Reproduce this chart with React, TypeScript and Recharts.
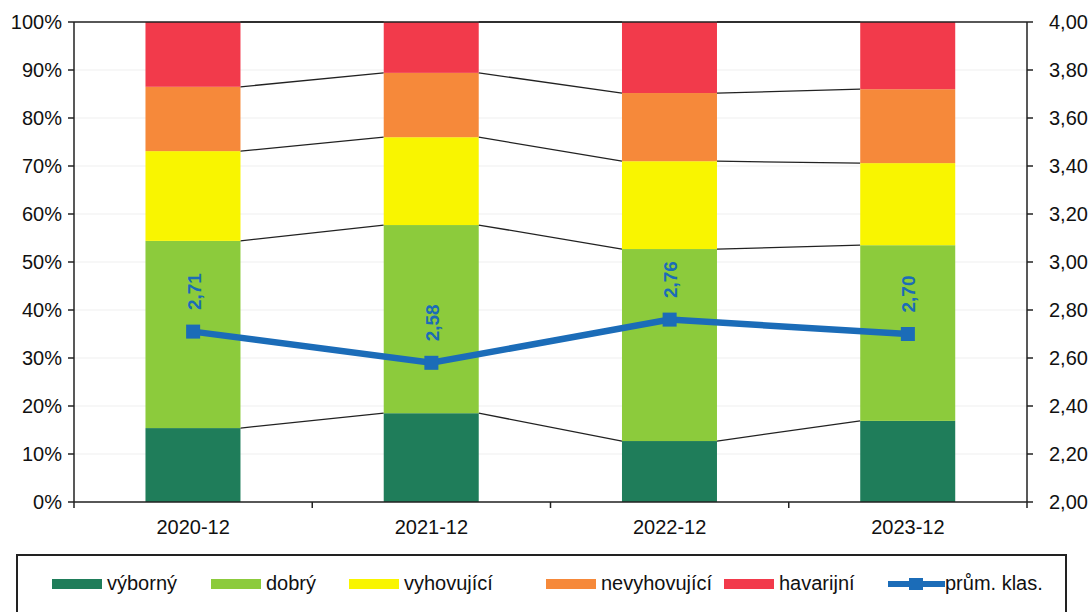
import {
  Bar,
  CartesianGrid,
  ComposedChart,
  LabelList,
  Line,
  ReferenceLine,
  XAxis,
  YAxis,
} from "recharts";

const categories = ["2020-12", "2021-12", "2022-12", "2023-12"];
const vyborny = [15.4, 18.5, 12.7, 16.9];
const dobry = [39.0, 39.2, 40.0, 36.6];
const vyhovujici = [18.7, 18.3, 18.3, 17.1];
const nevyhovujici = [13.4, 13.4, 14.2, 15.4];
const havarijni = [13.5, 10.6, 14.8, 14.0];
const prumKlas = [2.71, 2.58, 2.76, 2.7];

const leftTicks = [0, 10, 20, 30, 40, 50, 60, 70, 80, 90, 100];
const rightTicks = [2, 2.2, 2.4, 2.6, 2.8, 3, 3.2, 3.4, 3.6, 3.8, 4];

const W = 1091;
const H = 612;
const LEFT_W = 74;
const RIGHT_W = 64;
const PLOT_W = W - LEFT_W - RIGHT_W;
const STEP = PLOT_W / categories.length;
const FONT = "'Liberation Sans', Arial, sans-serif";
const BLUE = "#1b6cb8";

const KEYS = ["vyborny", "dobry", "vyhovujici", "nevyhovujici", "havarijni"];
const SERIES = [
  { key: "vyborny", name: "výborný", color: "#1f7d5a" },
  { key: "dobry", name: "dobrý", color: "#8ccb3c" },
  { key: "vyhovujici", name: "vyhovující", color: "#f9f500" },
  { key: "nevyhovujici", name: "nevyhovující", color: "#f6893a" },
  { key: "havarijni", name: "havarijní", color: "#f23a4b" },
];

const rows = categories.map((c, i) => ({
  cat: c,
  vyborny: vyborny[i],
  dobry: dobry[i],
  vyhovujici: vyhovujici[i],
  nevyhovujici: nevyhovujici[i],
  havarijni: havarijni[i],
  prum: prumKlas[i],
}));

const fmt = (v: number) => v.toFixed(2).replace(".", ",");

// bar segment + the thin "series line" over to the next bar
const makeShape = (key: string) => (props: any) => {
  const { x, y, width, height, index, fill } = props;
  const k = KEYS.indexOf(key);
  const cum = (idx: number) =>
    KEYS.slice(0, k + 1).reduce((s, kk) => s + (rows[idx] as any)[kk], 0);
  const val = (rows[index] as any)[key];
  const ppu = height / val;
  let conn = null;
  if (index < rows.length - 1) {
    const ny = y + (cum(index) - cum(index + 1)) * ppu;
    conn = (
      <line x1={x + width} y1={y} x2={x + STEP} y2={ny} stroke="#222" strokeWidth={1.3} />
    );
  }
  return (
    <g>
      <rect x={x} y={y} width={width} height={height} fill={fill} />
      {conn}
    </g>
  );
};

const XTick = (props: any) => {
  const { x, y, payload, index } = props;
  return (
    <g>
      <text
        x={x}
        y={y + 25}
        textAnchor="middle"
        dominantBaseline="central"
        fontSize={20}
        fontFamily={FONT}
        fill="#111"
      >
        {payload.value}
      </text>
      <line x1={x + STEP / 2} y1={y} x2={x + STEP / 2} y2={y + 6} stroke="#222" strokeWidth={1.5} />
      {index === 0 && (
        <line x1={x - STEP / 2} y1={y} x2={x - STEP / 2} y2={y + 6} stroke="#222" strokeWidth={1.5} />
      )}
    </g>
  );
};

const SquareDot = (props: any) => {
  const { cx, cy } = props;
  return <rect x={cx - 7} y={cy - 7} width={14} height={14} fill={BLUE} />;
};

const LineLabel = (props: any) => {
  const { x, y, value } = props;
  const lx = x + 1;
  const ly = y - 40;
  return (
    <text
      x={lx}
      y={ly}
      transform={`rotate(-90 ${lx} ${ly})`}
      textAnchor="middle"
      dominantBaseline="central"
      fill={BLUE}
      fontWeight="bold"
      fontSize={19}
      fontFamily={FONT}
    >
      {fmt(value)}
    </text>
  );
};

const legendItems = [
  { name: "výborný", color: "#1f7d5a", left: 50 },
  { name: "dobrý", color: "#8ccb3c", left: 209 },
  { name: "vyhovující", color: "#f9f500", left: 347 },
  { name: "nevyhovující", color: "#f6893a", left: 544 },
  { name: "havarijní", color: "#f23a4b", left: 722 },
];

export default function App() {
  const tickStyle = { fill: "#111", fontSize: 20, fontFamily: FONT };
  return (
    <div style={{ position: "absolute", left: 0, top: 0, width: W, height: H, background: "#fff", overflow: "hidden" }}>
      <ComposedChart
        width={W}
        height={H}
        data={rows}
        margin={{ top: 22, right: 0, bottom: 70, left: 0 }}
        barCategoryGap="30%"
      >
        <CartesianGrid vertical={false} stroke="#efefef" yAxisId="left" />
        <XAxis
          dataKey="cat"
          height={40}
          tickLine={false}
          tickSize={0}
          tickMargin={0}
          axisLine={{ stroke: "#222", strokeWidth: 1.5 }}
          tick={<XTick />}
          interval={0}
        />
        <YAxis
          yAxisId="left"
          width={LEFT_W}
          domain={[0, 100]}
          ticks={leftTicks}
          tickFormatter={(v) => `${v}%`}
          tick={tickStyle}
          tickSize={6}
          tickMargin={6}
          axisLine={{ stroke: "#222", strokeWidth: 1.5 }}
          tickLine={{ stroke: "#222", strokeWidth: 1.5 }}
          interval={0}
        />
        <YAxis
          yAxisId="right"
          orientation="right"
          width={RIGHT_W}
          domain={[2, 4]}
          ticks={rightTicks}
          tickFormatter={(v) => fmt(v)}
          tick={{ ...tickStyle, textAnchor: "start" }}
          tickSize={6}
          tickMargin={16}
          axisLine={{ stroke: "#222", strokeWidth: 1.5 }}
          tickLine={{ stroke: "#222", strokeWidth: 1.5 }}
          interval={0}
        />
        <ReferenceLine yAxisId="left" y={100} stroke="#222" strokeWidth={1.5} />
        {SERIES.map((s) => (
          <Bar
            key={s.key}
            dataKey={s.key}
            name={s.name}
            stackId="a"
            yAxisId="left"
            fill={s.color}
            shape={makeShape(s.key)}
            isAnimationActive={false}
          />
        ))}
        <Line
          dataKey="prum"
          yAxisId="right"
          stroke={BLUE}
          strokeWidth={6.5}
          dot={<SquareDot />}
          activeDot={false}
          isAnimationActive={false}
        >
          <LabelList dataKey="prum" content={<LineLabel />} />
        </Line>
      </ComposedChart>
      <div
        style={{
          position: "absolute",
          left: 16,
          top: 554,
          width: 1051,
          height: 80,
          border: "2px solid #222",
          boxSizing: "border-box",
          fontFamily: FONT,
          fontSize: 20,
          color: "#111",
        }}
      >
        {legendItems.map((it) => (
          <div
            key={it.name}
            style={{ position: "absolute", left: it.left - 16, top: 16, display: "flex", alignItems: "center" }}
          >
            <span style={{ display: "inline-block", width: 50, height: 10, background: it.color, marginRight: 5 }} />
            <span>{it.name}</span>
          </div>
        ))}
        <div style={{ position: "absolute", left: 886 - 16, top: 16, display: "flex", alignItems: "center" }}>
          <svg width={57} height={16} style={{ display: "block" }}>
            <line x1={0} y1={8} x2={57} y2={8} stroke={BLUE} strokeWidth={6} strokeLinecap="round" />
            <rect x={21} y={2} width={14} height={12} fill={BLUE} />
          </svg>
          <span>prům. klas.</span>
        </div>
      </div>
    </div>
  );
}
